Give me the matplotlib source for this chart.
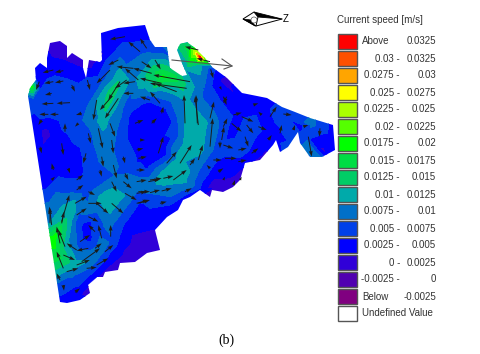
import matplotlib
matplotlib.use('Agg')
import matplotlib.pyplot as plt
from matplotlib.patches import Polygon, Rectangle, Circle
import numpy as np

# Legend
legend_title = 'Current speed [m/s]'
legend_low = ['Above', '0.03 -', '0.0275 -', '0.025 -', '0.0225 -', '0.02 -', '0.0175 -', '0.015 -',
              '0.0125 -', '0.01 -', '0.0075 -', '0.005 -', '0.0025 -', '0 -', '-0.0025 -', 'Below', 'Undefined Value']
legend_high = ['0.0325', '0.0325', '0.03', '0.0275', '0.025', '0.0225', '0.02', '0.0175',
               '0.015', '0.0125', '0.01', '0.0075', '0.005', '0.0025', '0', '-0.0025', '']
legend_colors = ['#ff0000', '#ff5000', '#ffa500', '#ffff00', '#aaff00', '#55ff00', '#00ff00', '#00dd44',
                 '#00cc66', '#00aaaa', '#0070c8', '#0040e8', '#0000ff', '#3000d8', '#5000b0', '#800080', '#ffffff']

# Speed levels, in units of 0.001 m/s
levels = [-100, -2.5, 0, 2.5, 5, 7.5, 10, 12.5, 15, 17.5, 20, 22.5, 25, 27.5, 30, 32.5, 100]

samples = [
    # far corners
    (15, 15, 4), (345, 15, 4), (345, 175, 4), (15, 315, 5), (345, 315, 3), (15, 90, 8), (15, 200, 6),
    # top edge and left lobes
    (55, 50, 1.5), (48, 65, 3.5), (35, 75, 4), (32, 87, 18), (40, 90, 5), (60, 83, 6), (75, 75, 4), (90, 65, 1.5),
    (110, 60, 6), (120, 50, 6), (125, 35, 4), (145, 35, 4), (150, 55, 8), (162, 50, 6), (100, 80, 6),
    # left side
    (33, 100, 6), (50, 110, 6.5), (65, 115, 6.5), (80, 120, 7), (35, 125, 4), (45, 133, 1.5), (60, 140, 4),
    (75, 150, 4), (40, 165, 4), (60, 170, 4), (80, 175, 4.5), (88, 130, 7),
    # upper ring, left and top
    (120, 78, 12), (112, 92, 14), (106, 108, 13), (103, 122, 11), (102, 140, 9), (105, 160, 8.5), (118, 110, 9),
    (88, 105, 7.5), (85, 145, 6), (90, 165, 6), (133, 80, 9), (143, 83, 11.5), (155, 72, 15), (163, 77, 18),
    (172, 78, 17), (180, 83, 14), (165, 88, 11), (150, 92, 10), (150, 97, 7), (150, 103, 4.5),
    # upper ring, inside
    (128, 105, 6), (122, 120, 7), (122, 140, 6.5), (112, 140, 8), (130, 120, 4.5), (130, 140, 4.5), (137, 117, 4),
    (147, 117, 4), (155, 135, 3.5), (162, 143, 2), (150, 150, 4), (140, 160, 4.5), (147, 165, 4), (165, 110, 4.5),
    (172, 122, 5), (176, 135, 6.5), (165, 155, 4.5), (172, 100, 8), (178, 115, 8), (140, 168, 6), (125, 170, 7),
    (115, 175, 7.5),
    # upper ring, right side
    (187, 100, 10.5), (190, 113, 11.5), (190, 133, 12), (198, 123, 11.5), (205, 123, 10.5), (200, 150, 11),
    (187, 150, 12), (178, 160, 11), (180, 177, 12), (165, 172, 11), (172, 150, 8),
    (163, 183, 10.5), (150, 185, 9.5), (135, 185, 9), (140, 175, 7),
    # hot spot on the knob
    (200, 57, 33), (195, 52, 25), (188, 48, 16), (183, 48, 14), (205, 60, 22), (197, 65, 12), (186, 70, 10), (212, 68, 6),
    # right wing
    (205, 90, 7), (200, 100, 8), (215, 123, 8.5), (225, 123, 6), (208, 150, 8.5), (200, 165, 8), (220, 100, 5),
    (222, 80, 2), (235, 95, 2.5), (240, 110, 4), (250, 130, 6.5), (232, 130, 4), (220, 150, 6), (240, 150, 6.5),
    (235, 165, 3.5), (260, 105, 4), (280, 115, 6), (270, 130, 4), (290, 125, 6), (265, 155, 2), (275, 142, 4),
    (300, 125, 4), (305, 135, 6), (312, 125, 8), (325, 128, 6), (322, 150, 2), (310, 150, 10), (300, 140, 6),
    (330, 140, 4),
    # lower edge of the wing
    (225, 185, 1.5), (212, 185, 1.5), (235, 180, 2), (205, 190, 3), (190, 195, 4), (240, 170, 2.5), (215, 170, 4),
    (200, 180, 6), (190, 185, 9), (180, 190, 8), (170, 195, 8), (160, 195, 7.5), (150, 200, 6), (140, 205, 4.5),
    # lower band
    (170, 205, 5), (130, 225, 3.5), (150, 225, 3), (150, 245, 1), (135, 250, 1), (125, 260, 1), (110, 265, 2.5),
    (120, 235, 5), (113, 198, 12), (102, 198, 11), (125, 195, 10), (130, 205, 7),
    # lower ring
    (67, 217, 12), (57, 233, 17.5), (53, 240, 19), (58, 257, 16), (63, 267, 12), (75, 265, 11), (90, 260, 10),
    (87, 225, 4), (85, 235, 4), (90, 240, 4.5), (78, 222, 6), (95, 218, 6), (100, 228, 6.5), (80, 245, 6.5),
    (73, 230, 8.5), (90, 210, 8.5), (70, 220, 11), (100, 250, 9), (108, 225, 8.5), (112, 240, 7), (66, 245, 11),
    (80, 205, 9), (45, 190, 5), (55, 190, 7), (70, 190, 6.5), (85, 190, 6), (60, 200, 9), (50, 205, 8),
    (75, 200, 10), (48, 225, 10),
    # bottom tip
    (100, 262, 6), (90, 275, 5), (80, 290, 4), (85, 293, 1.5), (75, 300, 4), (62, 295, 5), (65, 280, 7), (72, 275, 8),
]

# Domain outline
outline_x = [28, 30, 36, 35, 40, 47, 47, 50, 60, 67, 67, 72, 83, 83, 86, 89, 100, 102, 101, 118, 145, 150, 155,
             167, 170, 182, 187, 182, 177, 180, 187, 195, 205, 212, 227, 242, 267, 282, 295, 310, 333, 335,
             322, 310, 300, 298, 288, 280, 276, 273, 260, 245, 240, 233, 223, 212, 210, 200, 190, 183, 178,
             167, 155, 160, 147, 135, 120, 118, 105, 103, 97, 88, 90, 80, 67, 60]
outline_y = [96, 88, 80, 68, 63, 68, 58, 43, 41, 46, 58, 53, 60, 68, 78, 60, 62, 60, 33, 28, 25, 40, 47,
             47, 68, 76, 75, 63, 50, 44, 42, 48, 58, 67, 78, 93, 98, 107, 112, 118, 125, 150,
             157, 157, 143, 132, 147, 152, 140, 145, 160, 163, 180, 187, 192, 190, 197, 190, 197, 200, 210,
             217, 230, 250, 253, 262, 263, 270, 272, 277, 277, 285, 293, 300, 303, 302]

arrows_upper = [(300, 65, 190, 45), (290, 85, 180, 70), (260, 95, 195, 70), (215, 70, 150, 55), (145, 60, 105, 25),
                (185, 40, 130, 25), (135, 65, 100, 70), (110, 60, 75, 85), (65, 110, 30, 150), (85, 115, 45, 175),
                (60, 30, 20, 70), (20, 120, 10, 180), (60, 190, 75, 230), (25, 205, 38, 265), (210, 130, 180, 95),
                (130, 100, 100, 100), (285, 190, 282, 105), (325, 195, 315, 110), (270, 310, 305, 255),
                (180, 120, 150, 110), (215, 160, 220, 140), (135, 190, 160, 180), (185, 190, 200, 175),
                (150, 240, 165, 240), (140, 270, 160, 265), (145, 295, 170, 290), (205, 280, 220, 230),
                (230, 310, 260, 275), (100, 290, 105, 310), (65, 240, 70, 280), (35, 290, 40, 320),
                (155, 5, 185, 25), (195, 0, 212, 28)]
arrows_lower = [(35, 135, 28, 80), (65, 125, 88, 45), (65, 130, 72, 95), (30, 130, 30, 85), (60, 190, 50, 140),
                (75, 200, 55, 150), (70, 265, 50, 215), (60, 300, 50, 280), (110, 210, 80, 190), (70, 225, 105, 240),
                (145, 205, 110, 212), (120, 185, 150, 165), (165, 155, 145, 135), (105, 70, 140, 50),
                (110, 105, 140, 85), (145, 70, 185, 70), (170, 70, 205, 100), (145, 110, 175, 125),
                (215, 70, 250, 100), (185, 175, 175, 135), (212, 170, 212, 135), (165, 205, 185, 190),
                (125, 245, 180, 205), (80, 275, 115, 265), (110, 255, 150, 240), (170, 255, 205, 235),
                (140, 265, 170, 262), (195, 215, 220, 195), (110, 30, 130, 15), (145, 35, 165, 45),
                (215, 5, 230, 35), (250, 5, 275, 25), (255, 40, 290, 60), (295, 35, 330, 35), (295, 70, 330, 60)]
arrows_wing = [(22, 100, 18, 15), (60, 85, 72, 35), (60, 170, 68, 85), (25, 210, 38, 165), (0, 225, 15, 205),
               (100, 110, 112, 85), (95, 150, 102, 110), (90, 155, 90, 175), (130, 75, 155, 68), (155, 80, 190, 95),
               (125, 100, 155, 125), (170, 105, 190, 130), (205, 110, 230, 120), (240, 80, 260, 50),
               (215, 75, 205, 65), (190, 45, 205, 40), (100, 20, 110, 45), (100, 165, 130, 175), (165, 140, 175, 170),
               (145, 180, 170, 175), (235, 150, 245, 135), (185, 190, 205, 175), (270, 130, 275, 105),
               (280, 72, 305, 75), (310, 120, 315, 105), (105, 205, 140, 205), (70, 210, 95, 210),
               (145, 215, 170, 210), (60, 235, 50, 225), (85, 245, 100, 235), (100, 270, 105, 260),
               (130, 285, 135, 270), (150, 270, 155, 260)]
arrows_south = [(20, 125, 50, 120), (55, 125, 90, 118), (20, 160, 50, 155), (60, 158, 90, 150), (95, 153, 125, 145),
                (20, 190, 55, 180), (100, 115, 130, 108), (130, 120, 170, 90), (165, 155, 185, 145), (90, 190, 110, 185)]
arrows_north = [(160, 210, 128, 218), (190, 212, 165, 217), (160, 245, 133, 250), (190, 243, 165, 248),
                (118, 245, 108, 270), (215, 255, 225, 275), (262, 240, 270, 270), (375, 110, 330, 118),
                (420, 155, 385, 125), (440, 145, 420, 115), (355, 180, 325, 195), (400, 205, 350, 200),
                (155, 280, 135, 285), (210, 308, 170, 310), (160, 310, 125, 312), (175, 343, 150, 343),
                (145, 343, 118, 343), (245, 340, 228, 345), (125, 360, 115, 375), (195, 395, 195, 370),
                (235, 370, 225, 380), (265, 400, 272, 430), (185, 430, 190, 465), (120, 440, 125, 460),
                (258, 460, 250, 490), (360, 245, 325, 300)]
arrows_knob = [(115, 150, 75, 140), (150, 185, 110, 175), (152, 208, 160, 235), (180, 260, 185, 270),
               (200, 290, 190, 310), (445, 410, 455, 470), (480, 385, 478, 410), (430, 380, 445, 375)]
arrows_edge = [(100, 375, 102, 392), (135, 397, 150, 385), (70, 30, 65, 10), (65, 60, 75, 50), (115, 25, 120, 40),
               (140, 60, 160, 45), (210, 30, 215, 50), (250, 15, 260, 55), (285, 40, 295, 60), (320, 30, 345, 30),
               (360, 60, 395, 55)]
# crop origin of each list above, and the crop scale
arrow_crops = [(arrows_upper, 90, 60), (arrows_lower, 40, 180), (arrows_wing, 190, 90), (arrows_south, 130, 140),
               (arrows_north, 0, 0), (arrows_knob, 160, 0), (arrows_edge, 30, 160)]
crop_scale = 3

# Reference arrow
ref_x = [172, 232]
ref_y = [60, 66]

fig = plt.figure(figsize=(4.8, 3.54), dpi=100)
ax = fig.add_axes([0, 0, 1, 1])
ax.set_xlim(0, 480)
ax.set_ylim(354, 0)
ax.axis('off')

# Filled contours, clipped to the domain
outline = Polygon(np.column_stack([outline_x, outline_y]), closed=True, fc='none', ec='none', transform=ax.transData)
ax.add_patch(outline)
sx, sy, sv = zip(*samples)
cf = ax.tricontourf(sx, sy, sv, levels=levels, colors=legend_colors[:16][::-1])
cf.set_clip_path(outline)

# Velocity arrows
tails_x, tails_y, tips_x, tips_y = [], [], [], []
for rows, ox, oy in arrow_crops:
    for x0, y0, x1, y1 in rows:
        tails_x.append(ox + x0 / crop_scale)
        tails_y.append(oy + y0 / crop_scale)
        tips_x.append(ox + x1 / crop_scale)
        tips_y.append(oy + y1 / crop_scale)
tails_x, tails_y, tips_x, tips_y = map(np.array, (tails_x, tails_y, tips_x, tips_y))
ax.quiver(tails_x, tails_y, tips_x - tails_x, tips_y - tails_y, angles='xy', scale_units='xy', scale=1,
          color='#1a1a1a', width=0.002, headwidth=4, headlength=6, headaxislength=5.5, minlength=0, zorder=3)

# Reference arrow and axis triad
ax.plot(ref_x, ref_y, color='#555555', lw=0.8, zorder=4)
ax.plot([222, ref_x[1], 224], [59, ref_y[1], 69], color='#555555', lw=0.8, zorder=4)
ax.add_patch(Polygon([(254, 12), (282, 19), (258, 17)], closed=True, fc='black', ec='black', lw=0.6))
ax.add_patch(Polygon([(243, 19), (254, 12), (258, 17), (256, 26)], closed=True, fc='white', ec='black', lw=0.7))
ax.add_patch(Polygon([(243, 19), (255, 26), (251, 20)], closed=True, fc='black', ec='black', lw=0.5))
ax.plot([256, 282], [26, 19], color='black', lw=0.7)
ax.add_patch(Circle((254, 20), 3, fc='white', ec='#555555', lw=0.5, zorder=4))
ax.text(286, 18.5, 'Z', fontsize=7, family='Liberation Sans', ha='center', va='center')

# Legend
ax.text(337, 20, legend_title, fontsize=7, family='Liberation Sans', color='#333333', ha='left', va='center')
for i, color in enumerate(legend_colors):
    y = 34 + 17 * i
    ax.add_patch(Rectangle((338, y), 19, 14.5, fc=color, ec='#555555', lw=1))
    low = legend_low[i]
    if low in ('Above', 'Below', 'Undefined Value'):
        ax.text(362, y + 7.5, low, fontsize=7, family='Liberation Sans', color='#333333', ha='left', va='center')
    else:
        ax.text(400, y + 7.5, low, fontsize=7, family='Liberation Sans', color='#333333', ha='right', va='center')
    ax.text(436, y + 7.5, legend_high[i], fontsize=7, family='Liberation Sans', color='#333333', ha='right', va='center')

ax.text(226, 340, '(b)', fontsize=10, family='Liberation Serif', color='black', ha='center', va='center')

fig.savefig('out.png', dpi=100)
